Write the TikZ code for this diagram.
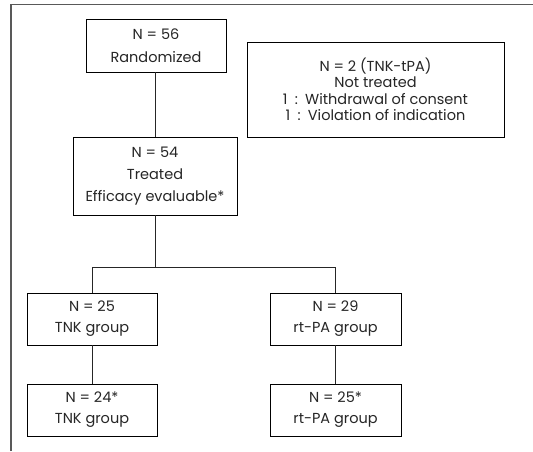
\documentclass[tikz,border=0pt]{standalone}
\usepackage{fontspec}
\setmainfont{Poppins}
\begin{document}
\begin{tikzpicture}[x=1pt,y=-1pt,
  box/.style={draw=black,line width=0.9pt,minimum width=#1,inner sep=0pt,align=center,font=\fontsize{14.5}{23}\selectfont,text=black!85},
  link/.style={draw=black!85,line width=0.9pt}]
\useasboundingbox (0,0) rectangle (533,451);
\fill[white] (0,0) rectangle (533,451);
\draw[black!65,line width=1.5pt] (11,451) -- (11,4.5) -- (533,4.5);
\node[box=140pt,minimum height=53pt] (rand) at (156,45.5) {N = 56\\Randomized};
\node[box=257pt,minimum height=95pt,font=\fontsize{14.5}{16.5}\selectfont] (nt) at (375.5,89.5) {N = 2 (TNK-tPA)\\Not treated\\1\enspace:\enspace Withdrawal of consent\\1\enspace:\enspace Violation of indication};
\node[box=164pt,minimum height=78pt,font=\fontsize{14.5}{22}\selectfont] (treat) at (155,176) {N = 54\\Treated\\Efficacy evaluable*};
\node[box=130pt,minimum height=52pt,font=\fontsize{14.5}{21}\selectfont] (tnk) at (92,319) {N = 25\\TNK group};
\node[box=131pt,minimum height=52pt,font=\fontsize{14.5}{21}\selectfont] (rtpa) at (335.5,319) {N = 29\\rt-PA group};
\node[box=130pt,minimum height=52pt,font=\fontsize{14.5}{21}\selectfont] (tnk2) at (92,410) {N = 24*\\TNK group};
\node[box=131pt,minimum height=52pt,font=\fontsize{14.5}{21}\selectfont] (rtpa2) at (335.5,410) {N = 25*\\rt-PA group};
\coordinate (split) at (155,267);
\draw[link] (treat.south |- rand.south) -- (treat.north);
\draw[link] (treat.south) -- (split);
\draw[link] (split) -| (tnk.north);
\draw[link] (split) -| (rtpa.north);
\draw[link] (tnk.south) -- (tnk2.north);
\draw[link] (rtpa.south) -- (rtpa2.north);
\end{tikzpicture}
\end{document}
